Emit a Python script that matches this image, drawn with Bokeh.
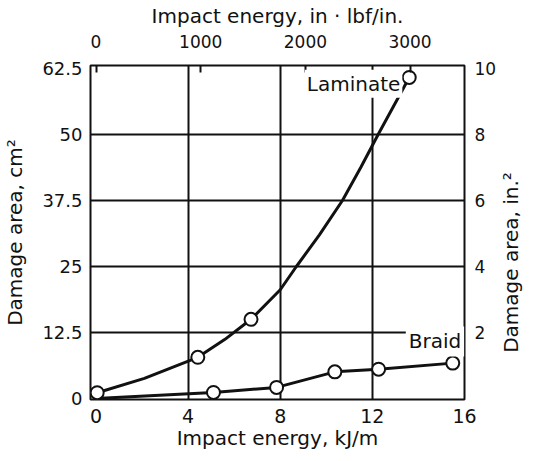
import math
from bokeh.plotting import figure
from bokeh.layouts import row
from bokeh.models import (Range1d, LinearAxis, FixedTicker, Label)
from bokeh.embed import file_html
from bokeh.resources import INLINE

# ---- data ----
# Laminate: measured points (markers) and the drawn smooth curve
lam_x = [0.05, 4.42, 6.73, 13.6]
lam_y = [1.1, 7.8, 15.0, 60.8]
lam_curve_x = [0.05, 2.1, 4.42, 5.6, 6.73, 8.0, 8.7, 9.7, 10.7, 11.5, 12.25, 13.6]
lam_curve_y = [1.1, 3.8, 7.8, 11.2, 15.0, 20.6, 25.0, 31.0, 37.5, 43.8, 50.0, 60.8]

# Braid: measured points and the drawn line
braid_x = [5.1, 7.84, 10.37, 12.27, 15.49]
braid_y = [1.15, 2.1, 5.05, 5.55, 6.7]
braid_line_x = [0.0, 5.1, 7.84, 10.37, 12.27, 15.49]
braid_line_y = [0.0, 1.15, 2.1, 5.05, 5.55, 6.7]

# ticks
x_ticks = [0, 4, 8, 12, 16]
y_ticks = [0, 12.5, 25, 37.5, 50, 62.5]
y_tick_labels = ["0", "12.5", "25", "37.5", "50", "62.5"]
top_ticks = [0, 1000, 2000, 3000]
right_ticks = [2, 4, 6, 8, 10]
x_grid = [4, 8, 12]
y_grid = [12.5, 25, 37.5, 50]

KJ_TO_INLBF = 220.0      # top-scale factor as drawn
CM2_PER_IN2 = 6.25       # right-scale factor as drawn

FONT = "DejaVu Sans"
INK = "#111111"

x0, x1 = -0.24, 16.0
y0, y1 = -0.19, 63.07

FW, FH = 374, 334
TOP, BOTTOM, LEFT, RIGHT = 60, 51, 87, 33
H = TOP + FH + BOTTOM

p = figure(frame_width=FW, frame_height=FH,
           min_border_left=LEFT, min_border_right=RIGHT,
           min_border_top=TOP, min_border_bottom=BOTTOM,
           x_range=Range1d(x0, x1), y_range=Range1d(y0, y1),
           output_backend="svg", toolbar_location=None,
           background_fill_color="white", border_fill_color="white")

p.extra_x_ranges = {"top": Range1d(x0 * KJ_TO_INLBF, x1 * KJ_TO_INLBF)}
p.extra_y_ranges = {"right": Range1d(y0 / CM2_PER_IN2, y1 / CM2_PER_IN2)}

p.outline_line_color = INK
p.outline_line_width = 2

# grids
p.xgrid.ticker = FixedTicker(ticks=x_grid)
p.ygrid.ticker = FixedTicker(ticks=y_grid)
for g in (p.xgrid, p.ygrid):
    g.grid_line_color = INK
    g.grid_line_width = 2
    g.grid_line_alpha = 1.0


def style_axis(ax, size, label_size="20px"):
    ax.axis_line_color = None
    ax.major_tick_line_color = INK
    ax.major_tick_line_width = 2
    ax.major_tick_out = 0
    ax.major_tick_in = 0
    ax.minor_tick_line_color = None
    ax.major_label_text_font = FONT
    ax.major_label_text_font_size = size
    ax.major_label_text_color = INK
    ax.axis_label_text_font = FONT
    ax.axis_label_text_font_size = label_size
    ax.axis_label_text_font_style = "normal"
    ax.axis_label_text_color = INK


# bottom axis
xb = p.xaxis[0]
xb.ticker = FixedTicker(ticks=x_ticks)
xb.axis_label = "Impact energy, kJ/m"
style_axis(xb, "19px")
xb.major_label_standoff = 9
xb.axis_label_standoff = 0

# left axis
yl = p.yaxis[0]
yl.ticker = FixedTicker(ticks=y_ticks)
yl.major_label_overrides = {v: s for v, s in zip(y_ticks, y_tick_labels)}
yl.axis_label = "Damage area, cm²"
style_axis(yl, "18px")
yl.major_label_standoff = 8
yl.axis_label_standoff = 12

# top axis
xt = LinearAxis(x_range_name="top", axis_label="Impact energy, in · lbf/in.")
xt.ticker = FixedTicker(ticks=top_ticks)
style_axis(xt, "17px")
xt.major_tick_in = 7
xt.major_label_standoff = 18
xt.axis_label_standoff = 4
p.add_layout(xt, "above")

# right axis (its title is drawn in a narrow strip to the right, reading upward)
yr = LinearAxis(y_range_name="right")
yr.ticker = FixedTicker(ticks=right_ticks)
style_axis(yr, "17px")
yr.major_label_standoff = 10
p.add_layout(yr, "right")

# curves
p.line(lam_curve_x, lam_curve_y, line_color=INK, line_width=3)
p.line(braid_line_x, braid_line_y, line_color=INK, line_width=3)
p.scatter(lam_x, lam_y, marker="circle", size=13, fill_color="white",
          line_color=INK, line_width=2)
p.scatter(braid_x, braid_y, marker="circle", size=13, fill_color="white",
          line_color=INK, line_width=2)

# curve labels (white box interrupts the grid, as in the original)
p.add_layout(Label(x=13.3, y=59.6, text="Laminate", text_align="right",
                   text_baseline="middle", text_font=FONT,
                   text_font_size="20px", text_color=INK,
                   background_fill_color="white", padding=2))
p.add_layout(Label(x=13.45, y=10.8, text="Braid", text_align="left",
                   text_baseline="middle", text_font=FONT,
                   text_font_size="20px", text_color=INK,
                   background_fill_color="white", padding=3))

# strip holding the right-hand axis title
SW = 518 - (LEFT + FW + RIGHT)
s = figure(width=SW, height=H, x_range=Range1d(0, SW), y_range=Range1d(0, H),
           min_border=0, x_axis_type=None, y_axis_type=None,
           output_backend="svg", toolbar_location=None,
           background_fill_color="white", border_fill_color="white")
s.outline_line_color = None
s.grid.visible = False
s.add_layout(Label(x=SW / 2 - 1, y=130, x_units="screen", y_units="screen",
                   text="Damage area, in.²", angle=math.pi / 2,
                   text_align="center", text_baseline="middle",
                   text_font=FONT, text_font_size="20px", text_color=INK))

layout = row(p, s, spacing=0)
open("out.html", "w").write(file_html(layout, INLINE))
